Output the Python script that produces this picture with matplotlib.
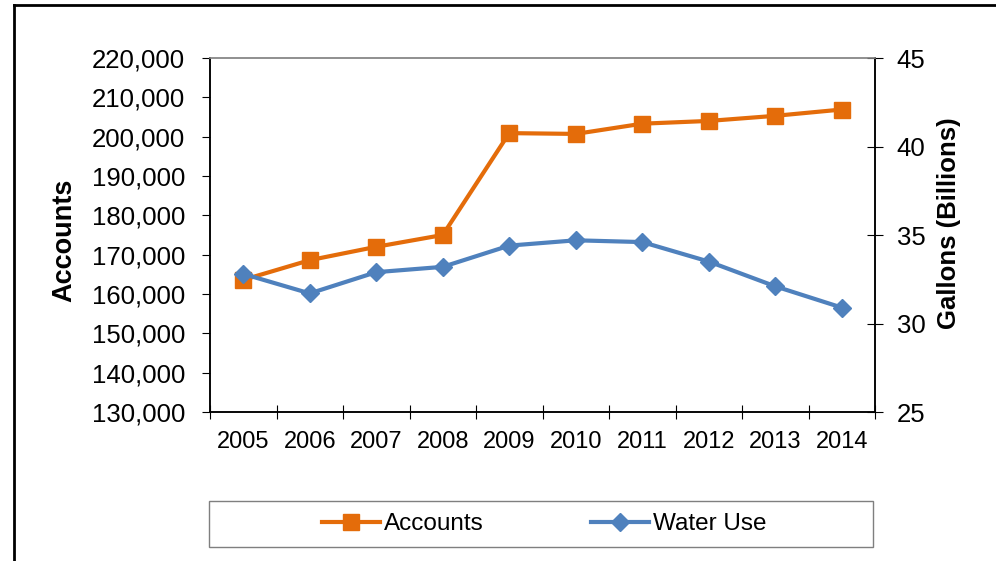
import numpy as np
import matplotlib
matplotlib.use("Agg")
import matplotlib.pyplot as plt
from matplotlib.lines import Line2D
from matplotlib.patches import Rectangle
from matplotlib.ticker import FuncFormatter

# ---- data ----
years = ["2005", "2006", "2007", "2008", "2009", "2010", "2011", "2012", "2013", "2014"]
accounts = [163600, 168600, 172000, 175000, 200900, 200700, 203300, 204000, 205300, 206900]
water_use = [32.8, 31.7, 32.9, 33.2, 34.4, 34.7, 34.6, 33.5, 32.1, 30.9]

orange = "#E46C0A"
blue = "#4F81BD"

plt.rcParams["font.family"] = ["Liberation Sans", "DejaVu Sans"]
plt.rcParams["font.size"] = 16.5

fig = plt.figure(figsize=(9.96, 5.61), dpi=100)
ax = fig.add_axes([210 / 996, 1 - 412 / 561, 665 / 996, 354 / 561])
ax2 = ax.twinx()

x = np.arange(len(years))
ax.plot(x, accounts, color=orange, lw=3, marker="s", ms=11, label="Accounts", zorder=3)
ax2.plot(x, water_use, color=blue, lw=3, marker="D", ms=9, label="Water Use", zorder=3)

ax.set_xlim(-0.5, len(years) - 0.5)
ax.set_ylim(130000, 220000)
ax.set_yticks(np.arange(130000, 220001, 10000))
ax.yaxis.set_major_formatter(FuncFormatter(lambda v, p: f"{int(v):,}"))
ax2.set_ylim(25, 45)
ax2.set_yticks(np.arange(25, 46, 5))

# category ticks at the boundaries, labels in the middle
ax.set_xticks(np.arange(-0.5, len(years)))
ax.set_xticklabels([])
ax.set_xticks(x, minor=True)
ax.set_xticklabels(years, minor=True)
ax.tick_params(axis="x", which="major", direction="inout", length=10, width=0.8)
ax.tick_params(axis="x", which="minor", length=0, pad=14, labelsize=17)
ax.tick_params(axis="y", direction="out", length=6, width=0.8, pad=12, labelsize=18.5)
ax2.tick_params(axis="y", direction="inout", length=11, width=0.8, pad=10, labelsize=18.5)

for a in (ax, ax2):
    for s in a.spines.values():
        s.set_linewidth(1.1)
        s.set_color("black")
    a.spines["top"].set_color("#8C8C8C")

ax.set_ylabel("Accounts", fontweight="bold", fontsize=19.5)
ax.yaxis.set_label_coords(-0.2, 0.486)
ax2.set_ylabel("Gallons (Billions)", fontweight="bold", fontsize=18.5, rotation=90)
ax2.yaxis.set_label_coords(1.093, 0.534)

# legend with its own box
fig.patches.append(Rectangle((209 / 996, 1 - 547 / 561), 664 / 996, 46 / 561,
                             transform=fig.transFigure, fill=False,
                             edgecolor="#7F7F7F", lw=1.0))
h1, l1 = ax.get_legend_handles_labels()
h2, l2 = ax2.get_legend_handles_labels()
fig.legend(h1 + h2, l1 + l2, loc="center", bbox_to_anchor=(544 / 996, 1 - 524 / 561),
           ncol=2, frameon=False, handlelength=2.4, handletextpad=0.15,
           columnspacing=4.4, fontsize=17.5)

# outer frame of the original picture
fig.add_artist(Line2D([14 / 996, 14 / 996], [0, 1 - 5 / 561], transform=fig.transFigure,
                      color="black", lw=2))
fig.add_artist(Line2D([14 / 996, 1], [1 - 5 / 561, 1 - 5 / 561], transform=fig.transFigure,
                      color="black", lw=2))

fig.savefig("out.png", dpi=100)
